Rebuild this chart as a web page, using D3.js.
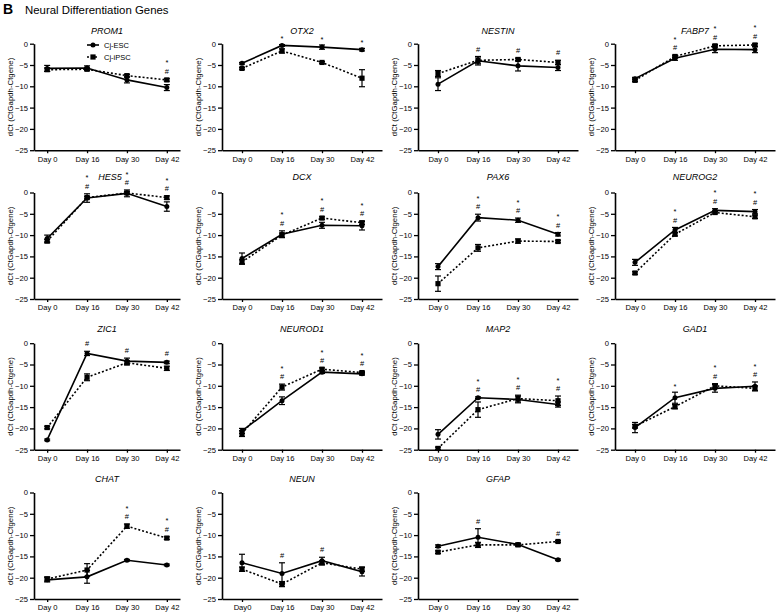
<!DOCTYPE html>
<html><head><meta charset="utf-8">
<script src="https://cdn.jsdelivr.net/npm/d3@7"></script>
<style>
body{margin:0;background:#fff}
svg{display:block}
text{font-family:"Liberation Sans",Arial,sans-serif;fill:#000}
</style>
</head><body>
<svg id="c" width="776" height="614"></svg>
<script>
const genes = ["PROM1","OTX2","NESTIN","FABP7","HES5","DCX","PAX6","NEUROG2","ZIC1","NEUROD1","MAP2","GAD1","CHAT","NEUN","GFAP"];
const days = ["Day 0","Day 16","Day 30","Day 42"];
const neunDayLabels = ["Day0","Day 16","Day 30","Day 42"];
const yTicks = [0,-5,-10,-15,-20,-25];
const seriesNames = ["Cj-ESC","Cj-iPSC"];

const escMean = [
[-5.8,-5.7,-8.5,-10.3],
[-4.6,-0.4,-0.8,-1.4],
[-9.5,-4.0,-5.2,-5.6],
[-8.2,-3.4,-1.3,-1.4],
[-10.8,-1.3,-0.2,-3.3],
[-15.5,-9.8,-7.7,-7.8],
[-17.4,-5.9,-6.5,-9.8],
[-16.4,-8.8,-4.2,-4.5],
[-22.7,-2.4,-4.2,-4.5],
[-20.6,-13.5,-6.8,-7.2],
[-21.4,-12.8,-13.2,-14.4],
[-19.8,-12.8,-10.6,-10.1],
[-20.5,-19.8,-15.9,-17.0],
[-16.5,-19.0,-16.0,-18.6],
[-12.6,-10.5,-12.2,-15.8]
];
const escErr = [
[0.7,0.5,0.7,0.7],
[0.2,0.2,0.5,0.3],
[1.5,1.0,1.2,0.7],
[0.3,0.5,0.8,0.7],
[0.8,1.0,0.8,1.1],
[1.3,0.8,0.7,1.0],
[0.7,0.8,0.5,0.4],
[0.7,0.6,0.4,0.5],
[0.2,0.5,0.7,0.3],
[0.6,0.9,0.3,0.3],
[1.1,0.2,0.8,0.6],
[1.2,1.3,0.9,1.0],
[0.5,1.5,0.2,0.2],
[2.0,2.5,0.8,1.0],
[0.3,2.0,0.3,0.2]
];
const ipscMean = [
[-6.1,-6.0,-7.5,-8.5],
[-5.8,-1.7,-4.4,-8.1],
[-7.0,-3.9,-3.7,-4.4],
[-8.6,-3.0,-0.5,-0.3],
[-11.4,-1.2,-0.1,-1.2],
[-16.3,-10.0,-6.0,-7.1],
[-21.4,-13.0,-11.4,-11.5],
[-18.9,-9.8,-4.7,-5.7],
[-19.8,-8.0,-4.6,-5.9],
[-21.2,-10.3,-6.1,-6.9],
[-24.7,-15.6,-13.0,-13.5],
[-19.5,-14.9,-10.0,-10.6],
[-20.3,-18.2,-7.9,-10.7],
[-18.0,-21.5,-16.5,-18.0],
[-14.0,-12.3,-12.3,-11.5]
];
const ipscErr = [
[0.4,0.3,0.3,0.3],
[0.2,0.5,0.2,2.0],
[0.7,0.8,0.3,0.5],
[0.3,0.3,0.3,0.3],
[0.4,0.3,0.3,0.4],
[0.5,0.5,0.3,0.4],
[1.8,0.8,0.5,0.3],
[0.3,0.4,0.3,0.4],
[0.3,0.8,0.5,0.5],
[0.7,0.7,0.3,0.3],
[0.3,1.8,0.8,1.1],
[0.4,0.5,0.5,0.6],
[0.5,1.5,0.5,0.3],
[0.5,0.6,0.5,0.5],
[0.3,0.6,0.3,0.2]
];
// indices of days carrying "*" and "#" significance marks
const starDays = [[3],[1,2,3],[],[1,2,3],[1,2,3],[1,2,3],[1,2,3],[1,2,3],[],[1,2,3],[1,2,3],[1,2,3],[2,3],[],[]];
const hashDays = [[3],[],[1,2,3],[1,2,3],[1,2,3],[1,2,3],[1,2,3],[1,2,3],[1,2,3],[1,2,3],[1,2,3],[2,3],[2,3],[1,2],[1,3]];

// ---- layout ----
const colAxisX = [34, 222, 418, 615];
const colAxisEnd = [180, 382, 578, 775];
const colPad = [0.33, 0.5, 0.5, 0.5];
const rowTop = [43.7, 192.5, 343.2, 492.5];
const titleGap = [10, 12.5, 11, 10.5];
const titleShift = {HES5: 3};
const plotH = 106.5;
const markFont = 7.5;

const svg = d3.select("#c");

svg.append("text").attr("x",3).attr("y",14).attr("font-size",14).attr("font-weight","bold").text("B");
svg.append("text").attr("x",25).attr("y",14).attr("font-size",11.4).text("Neural Differentiation Genes");

genes.forEach((gene, gi) => {
  const col = gi % 4, row = Math.floor(gi / 4);
  const top = rowTop[row], bottom = top + plotH;
  const x = d3.scalePoint().domain(days).range([colAxisX[col], colAxisEnd[col]]).padding(colPad[col]);
  const y = d3.scaleLinear().domain([-25, 0]).range([bottom, top]);
  const g = svg.append("g");

  // axes
  const labels = gene === "NEUN" ? neunDayLabels : days;
  const xa = g.append("g").attr("transform", `translate(0,${bottom})`)
    .call(d3.axisBottom(x).tickSize(3).tickSizeOuter(0).tickPadding(3)
      .tickFormat((d,i) => labels[i]));
  const ya = g.append("g").attr("transform", `translate(${colAxisX[col]},0)`)
    .call(d3.axisLeft(y).tickValues(yTicks).tickSize(4).tickSizeOuter(0).tickPadding(2)
      .tickFormat(d3.format("d")));
  [xa, ya].forEach(a => {
    a.select(".domain").attr("stroke","#000").attr("stroke-width",1.6);
    a.selectAll(".tick line").attr("stroke","#000").attr("stroke-width",1.3);
    a.selectAll(".tick text").attr("font-size",7.6).attr("font-family","Liberation Sans, Arial, sans-serif").attr("fill","#000");
  });

  // titles
  g.append("text").attr("x",(colAxisX[col]+colAxisEnd[col])/2 + (titleShift[gene] || 0)).attr("y",top-titleGap[row])
    .attr("text-anchor","middle").attr("font-size",9).attr("font-style","italic").text(gene);
  g.append("text")
    .attr("transform",`translate(${colAxisX[col]-21},${(top+bottom)/2}) rotate(-90)`)
    .attr("text-anchor","middle").attr("font-size",7.8).text("dCt (CtGapdh-Ctgene)");

  const series = [
    {mean: ipscMean[gi], err: ipscErr[gi], dash: "2,2", marker: "square"},
    {mean: escMean[gi], err: escErr[gi], dash: null, marker: "circle"}
  ];
  const line = d3.line().x((d,i) => x(days[i])).y(d => y(d));
  series.forEach(s => {
    g.append("path").datum(s.mean).attr("d", line).attr("fill","none")
      .attr("stroke","#000").attr("stroke-width",1.6).attr("stroke-dasharray", s.dash);
    s.mean.forEach((m,i) => {
      const cx = x(days[i]);
      g.append("line").attr("x1",cx).attr("x2",cx).attr("y1",y(m - s.err[i])).attr("y2",y(m + s.err[i]))
        .attr("stroke","#000").attr("stroke-width",1.2);
      [m - s.err[i], m + s.err[i]].forEach(v => {
        g.append("line").attr("x1",cx-3).attr("x2",cx+3).attr("y1",y(v)).attr("y2",y(v))
          .attr("stroke","#000").attr("stroke-width",1.2);
      });
      if (s.marker === "circle") {
        g.append("circle").attr("cx",cx).attr("cy",y(m)).attr("r",2.5).attr("fill","#000");
      } else {
        g.append("rect").attr("x",cx-2.6).attr("y",y(m)-2.6).attr("width",5.2).attr("height",5.2).attr("fill","#000");
      }
    });
  });

  // significance marks ("*" stacked over "#")
  days.forEach((d,i) => {
    const marks = [];
    if (hashDays[gi].includes(i)) marks.push("#");
    if (starDays[gi].includes(i)) marks.push("*");
    if (!marks.length) return;
    const topV = Math.max(escMean[gi][i] + escErr[gi][i], ipscMean[gi][i] + ipscErr[gi][i]);
    let yc = y(topV) - 7.5;
    const cx = x(d);
    marks.forEach(mk => {
      g.append("text").attr("x",cx)
        .attr("y", mk === "#" ? yc + 0.35*markFont : yc + 0.58*markFont)
        .attr("text-anchor","middle").attr("font-size",markFont).text(mk);
      yc -= 10.2;
    });
  });

  // legend in first panel
  if (gi === 0) {
    const lx = 87, ly = [45, 57];
    seriesNames.forEach((name, k) => {
      g.append("line").attr("x1",lx).attr("x2",lx+12).attr("y1",ly[k]).attr("y2",ly[k])
        .attr("stroke","#000").attr("stroke-width",1.6).attr("stroke-dasharray", k === 1 ? "2,2" : null);
      if (k === 0) g.append("circle").attr("cx",lx+6).attr("cy",ly[k]).attr("r",2.5).attr("fill","#000");
      else g.append("rect").attr("x",lx+3.4).attr("y",ly[k]-2.6).attr("width",5.2).attr("height",5.2).attr("fill","#000");
      g.append("text").attr("x",lx+17).attr("y",ly[k]+3).attr("font-size",7.5).text(name);
    });
  }
});
</script>
</body></html>
